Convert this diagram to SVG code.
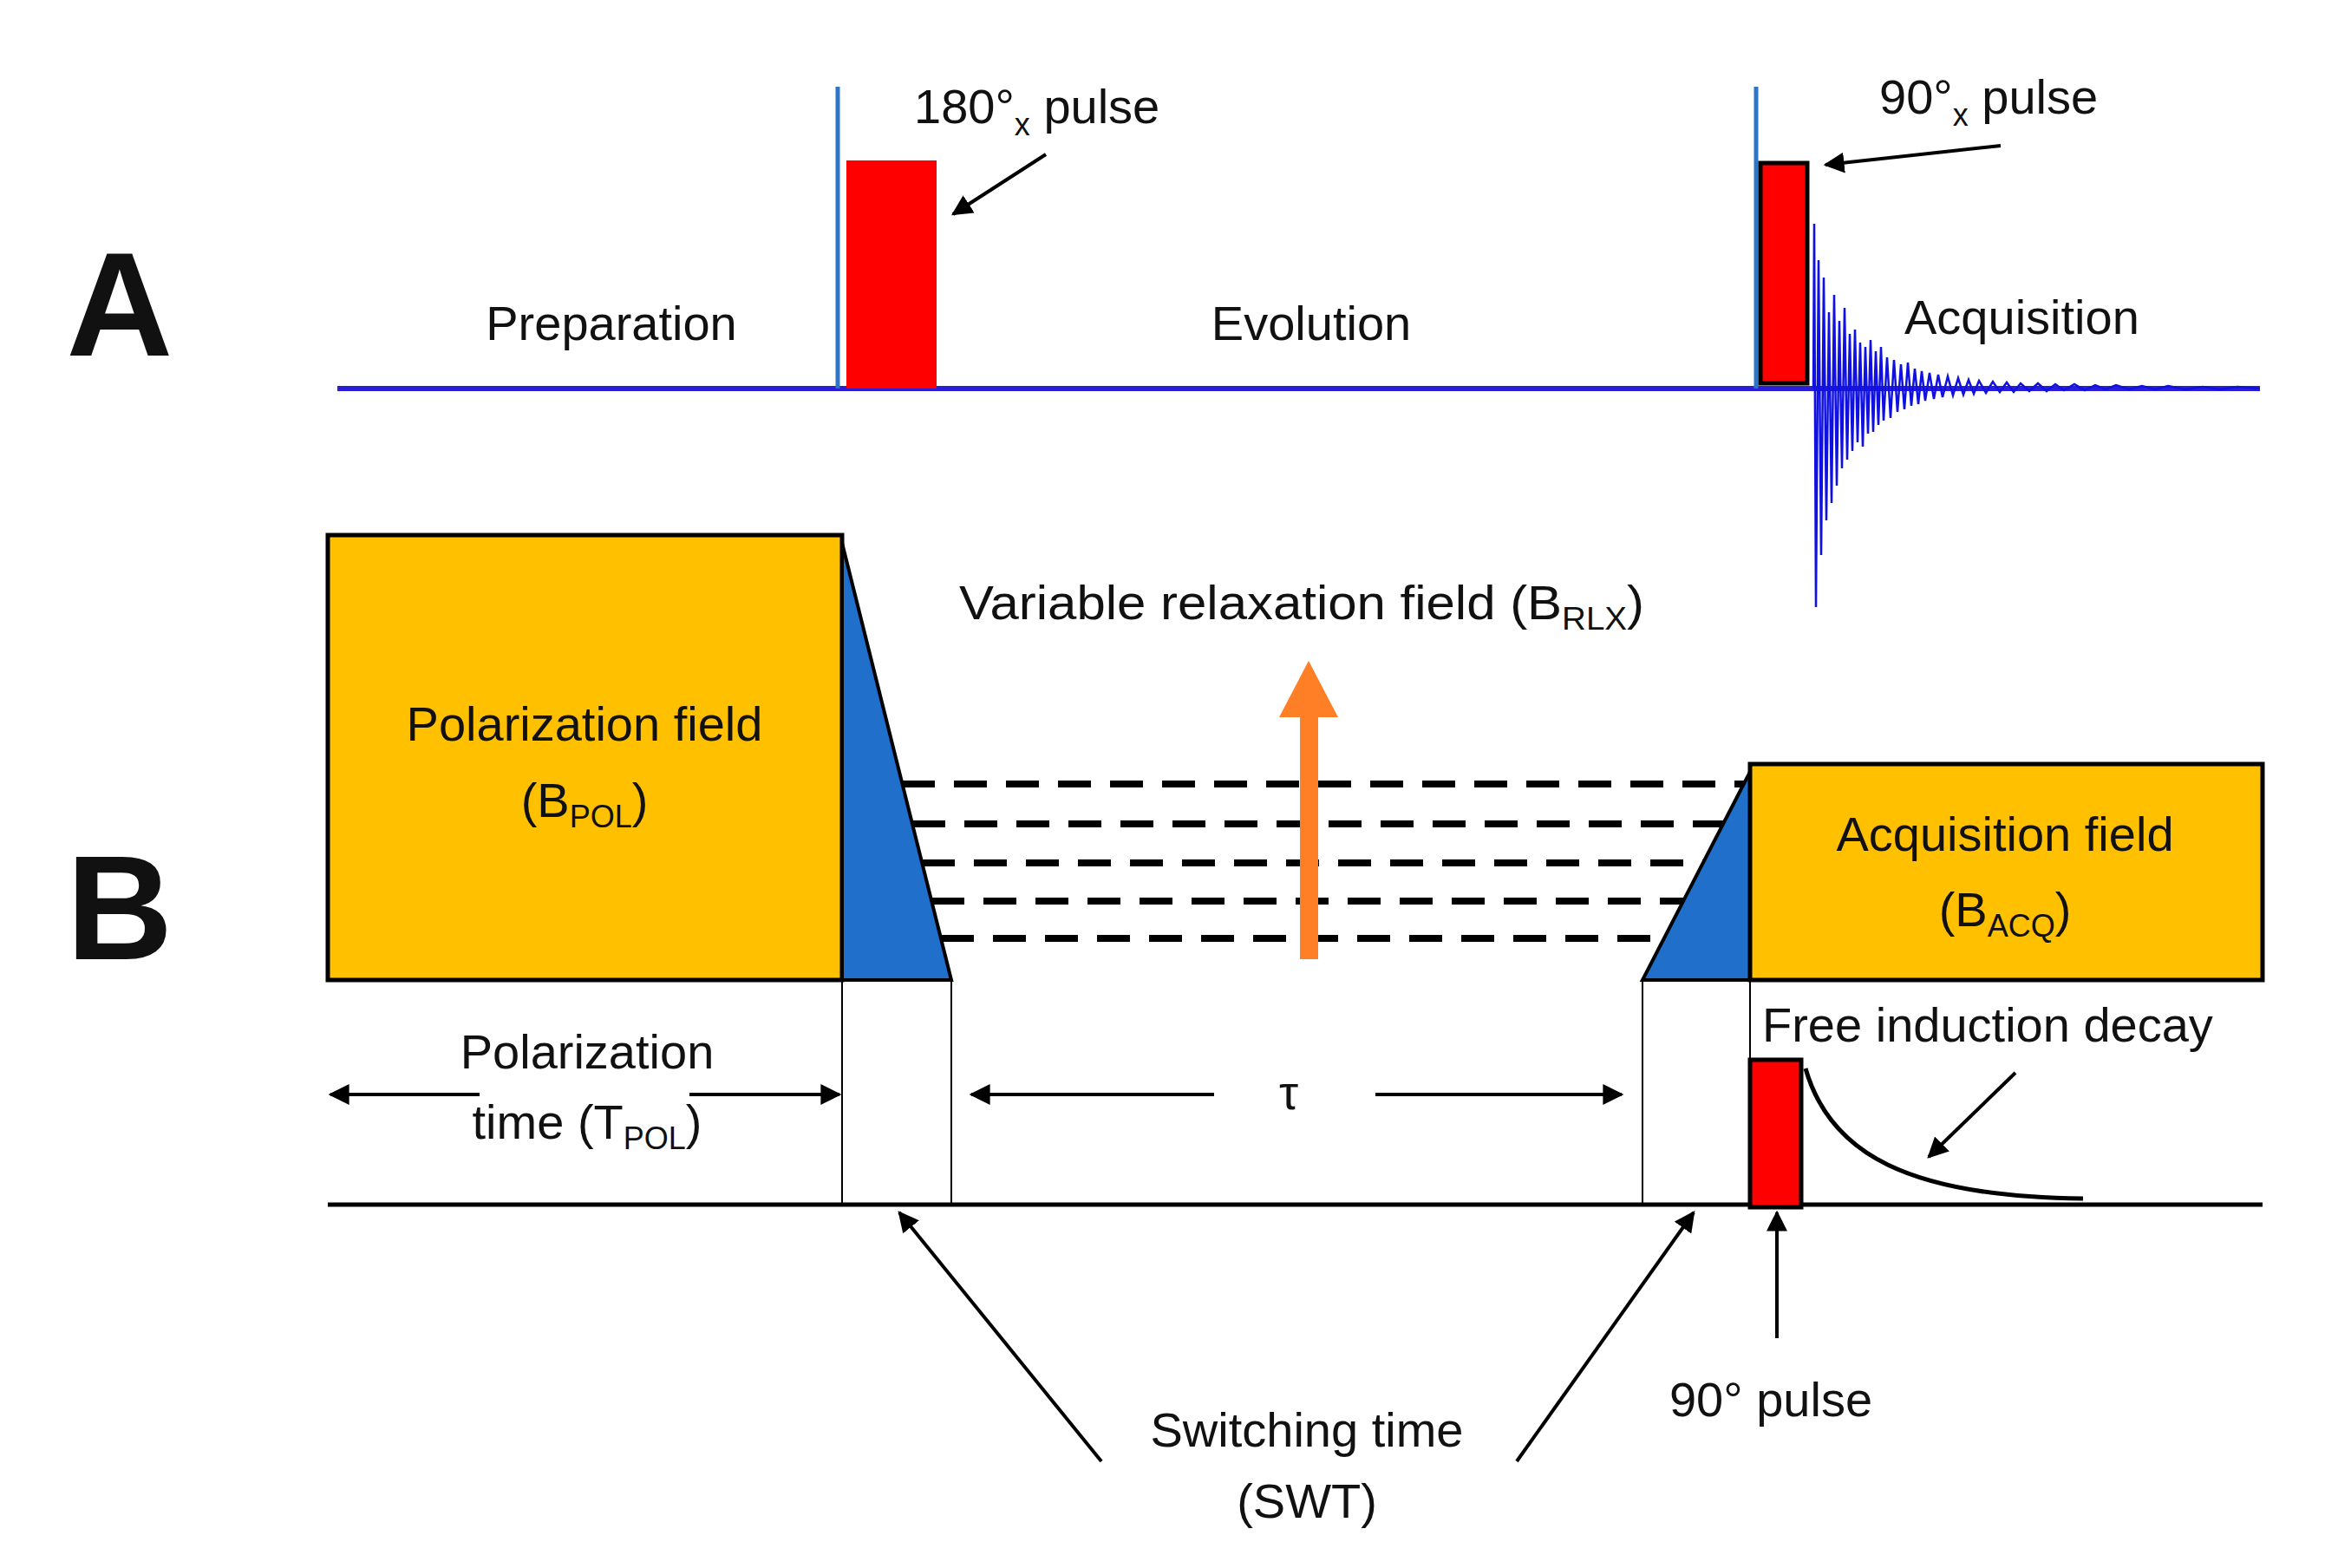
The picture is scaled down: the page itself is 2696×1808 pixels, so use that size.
<svg xmlns="http://www.w3.org/2000/svg" width="2696" height="1808" viewBox="0 0 2696 1808">
<style>
text{font-family:"Liberation Sans",Arial,sans-serif;font-size:56px;fill:#111}
.big{font-size:170px;font-weight:bold}
.sub{font-size:36px}
.ar{stroke:#000;stroke-width:4;fill:none;marker-end:url(#ah)}
.box{fill:#FFC000;stroke:#000;stroke-width:5}
.tri{fill:#1F6FCB;stroke:#000;stroke-width:4}
.dash{stroke:#000;stroke-width:8;stroke-dasharray:38 22}
.thin{stroke:#000;stroke-width:2}
.pulse{fill:#FF0000;stroke:#000;stroke-width:5}
</style>
<defs>
<marker id="ah" viewBox="0 0 10 10" refX="9" refY="5" markerWidth="6" markerHeight="6" orient="auto" markerUnits="strokeWidth"><path d="M0,0 L10,5 L0,10 z" fill="#000"/></marker>
</defs>
<rect width="2696" height="1808" fill="#fff"/>
<g id="panelA">
<text class="big" x="138" y="410" text-anchor="middle">A</text>
<line x1="389" y1="448" x2="2606" y2="448" stroke="#2A1FD6" stroke-width="6"/>
<line x1="966" y1="100" x2="966" y2="448" stroke="#2E75C8" stroke-width="5"/>
<rect x="976" y="185" width="104" height="263" fill="#FF0000"/>
<line x1="2025" y1="100" x2="2025" y2="448" stroke="#2E75C8" stroke-width="5"/>
<rect id="pulse90x" x="2030" y="188" width="54" height="254" class="pulse"/>
<polyline fill="none" stroke="#1010E0" stroke-width="2.5" points="2091,448 2092,258 2094,700 2097,300 2100,640 2103,320 2106,600 2109,360 2112,580 2115,340 2118,560 2121,370 2124,540 2127,355 2130,530 2133,385 2136,520 2139,380 2142,510 2145,395 2148,515 2151,400 2154,500 2157,392 2160,498 2163,405 2166,490 2169,400 2172,485 2176,412 2180,482 2184,415 2188,475 2192,420 2196,472 2200,418 2204,468 2208,425 2212,466 2216,428 2220,462 2225,430 2230,460 2235,432 2240,458 2246,434 2252,456 2258,436 2264,455 2270,438 2276,454 2282,439 2290,453 2298,440 2306,452 2314,441 2322,452 2330,442 2340,451 2350,442 2360,451 2370,443 2380,450 2392,443 2404,450 2416,444 2428,449 2440,444 2455,449 2470,445 2485,449 2500,445 2520,449 2540,446 2560,449 2580,446 2606,448"/>
<text x="705" y="392" text-anchor="middle">Preparation</text>
<text x="1512" y="392" text-anchor="middle">Evolution</text>
<text x="2196" y="385">Acquisition</text>
<text x="1054" y="142">180°<tspan class="sub" dy="14">x</tspan><tspan dy="-14"> pulse</tspan></text>
<text x="2167" y="131">90°<tspan class="sub" dy="14">x</tspan><tspan dy="-14"> pulse</tspan></text>
</g>
<g id="panelB">
<text class="big" x="138" y="1106" text-anchor="middle">B</text>
<rect id="polfield" x="378" y="617" width="593" height="513" class="box"/>
<text x="674" y="854" text-anchor="middle">Polarization field</text>
<text x="674" y="942" text-anchor="middle">(B<tspan class="sub" dy="12">POL</tspan><tspan dy="-12">)</tspan></text>
<polygon class="tri" points="971,626 1097,1130 971,1130"/>
<polygon class="tri" points="2018,890 2018,1130 1894,1130"/>
<rect id="acqfield" x="2018" y="881" width="591" height="249" class="box"/>
<text x="2312" y="981" text-anchor="middle">Acquisition field</text>
<text x="2312" y="1068" text-anchor="middle">(B<tspan class="sub" dy="12">ACQ</tspan><tspan dy="-12">)</tspan></text>
<line class="dash" x1="1040" y1="904" x2="2011" y2="904"/>
<line class="dash" x1="1052" y1="950" x2="1987" y2="950"/>
<line class="dash" x1="1063" y1="995" x2="1964" y2="995"/>
<line class="dash" x1="1074" y1="1039" x2="1941" y2="1039"/>
<line class="dash" x1="1085" y1="1082" x2="1919" y2="1082"/>
<polygon fill="#FF7F27" points="1499,1106 1520,1106 1520,827 1543,827 1509,762 1475,827 1499,827"/>
<text x="1106" y="714" textLength="790" lengthAdjust="spacingAndGlyphs">Variable relaxation field (B<tspan class="sub" dy="12">RLX</tspan><tspan dy="-12">)</tspan></text>
<line x1="378" y1="1389" x2="2609" y2="1389" stroke="#000" stroke-width="5"/>
<line class="thin" x1="971" y1="1130" x2="971" y2="1389"/>
<line class="thin" x1="1097" y1="1130" x2="1097" y2="1389"/>
<line class="thin" x1="1894" y1="1130" x2="1894" y2="1389"/>
<line class="thin" x1="2018" y1="1130" x2="2018" y2="1389"/>
<text x="677" y="1232" text-anchor="middle">Polarization</text>
<text x="677" y="1313" text-anchor="middle">time (T<tspan class="sub" dy="12">POL</tspan><tspan dy="-12">)</tspan></text>
<text x="1486" y="1279" text-anchor="middle">τ</text>
<text x="2032" y="1201">Free induction decay</text>
<rect id="pulse90" x="2018" y="1222" width="59" height="170" class="pulse"/>
<path d="M2082,1232 C2110,1330 2200,1380 2402,1382" fill="none" stroke="#000" stroke-width="5"/>
<text x="2042" y="1633" text-anchor="middle">90° pulse</text>
<text x="1507" y="1668" text-anchor="middle">Switching time</text>
<text x="1507" y="1750" text-anchor="middle">(SWT)</text>
</g>
<g id="connectors">
<line class="ar" x1="1206" y1="178" x2="1099" y2="247"/>
<line class="ar" x1="2307" y1="168" x2="2105" y2="190"/>
<line class="ar" x1="553" y1="1262" x2="381" y2="1262"/>
<line class="ar" x1="795" y1="1262" x2="968" y2="1262"/>
<line class="ar" x1="1400" y1="1262" x2="1120" y2="1262"/>
<line class="ar" x1="1586" y1="1262" x2="1870" y2="1262"/>
<line class="ar" x1="2324" y1="1237" x2="2224" y2="1334"/>
<line class="ar" x1="2049" y1="1543" x2="2049" y2="1398"/>
<line class="ar" x1="1270" y1="1685" x2="1037" y2="1398"/>
<line class="ar" x1="1749" y1="1685" x2="1953" y2="1398"/>
</g>
</svg>
